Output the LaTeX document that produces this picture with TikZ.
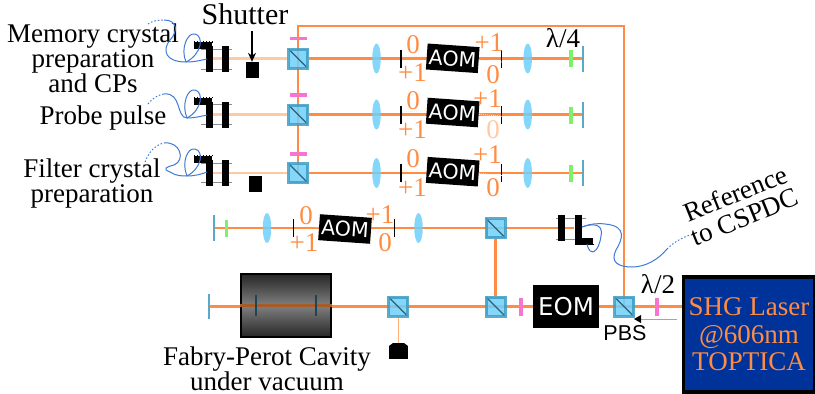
\documentclass[tikz,border=0pt]{standalone}
\usepackage{fontspec}
\setmainfont{Liberation Serif}
\newfontfamily\aomfont{DejaVu Sans}
\newfontfamily\pbsfont{Liberation Sans}
\usetikzlibrary{backgrounds,shapes.geometric,arrows.meta}

\definecolor{beamorange}{HTML}{FF8C42}
\definecolor{beampale}{HTML}{FFC9A3}
\definecolor{opticblue}{HTML}{6ECFFA}
\definecolor{cubeedge}{HTML}{3E9CC4}
\definecolor{mirrorblue}{HTML}{5AA9C9}
\definecolor{wavepink}{HTML}{F874D2}
\definecolor{wavegreen}{HTML}{7DF06C}
\definecolor{fiberblue}{HTML}{3F7AD6}
\definecolor{laserblue}{HTML}{003399}

\tikzset{
  lbl/.style={inner sep=0pt,align=center,font=\fontsize{27}{25}\selectfont},
  order/.style={inner sep=0pt,text=beamorange,font=\fontsize{27}{27}\selectfont},
  beam/.style={beamorange,line width=2.2pt},
  thinbeam/.style={beampale,line width=2.2pt},
  fiber/.style={fiberblue,line width=1pt},
  fibertail/.style={fiberblue,line width=1pt,dash pattern=on 1.5pt off 2pt},
  rod/.style={black!45,line width=1pt},
  order0/.style={white!85!beamorange,line width=.8pt,dash pattern=on 1pt off 1pt},
  pbs/.style={draw=cubeedge,fill=opticblue,line width=3pt,minimum size=19pt,inner sep=0pt,opacity=.85,
    path picture={\draw[cubeedge!50!black,line width=1.2pt] (path picture bounding box.north west) -- (path picture bounding box.south east);}},
  lens/.style={ellipse,fill=opticblue,minimum width=8.5pt,minimum height=30pt,inner sep=0pt,opacity=.85},
  mirror/.style={fill=mirrorblue,minimum width=2pt,minimum height=26pt,inner sep=0pt},
  qwp/.style={fill=wavegreen,minimum width=3.5pt,minimum height=17pt,inner sep=0pt},
  hwp/.style={fill=wavepink,minimum width=3.5pt,minimum height=17pt,inner sep=0pt},
  hwpflat/.style={fill=wavepink,minimum width=17pt,minimum height=3.5pt,inner sep=0pt},
  slit/.style={fill=black,minimum width=1.3pt,minimum height=18pt,inner sep=0pt},
  aom/.style={fill=black,text=white,minimum width=52pt,minimum height=26pt,inner sep=0pt,rotate=-4,font=\aomfont\fontsize{20.5}{20.5}\selectfont},
  bar/.style={fill=black,minimum width=7pt,minimum height=26pt,inner sep=0pt},
  foot/.style={fill=black,minimum width=18pt,minimum height=7pt,inner sep=0pt},
  teeth/.style={black,line width=1.5pt,dash pattern=on 1.5pt off 1.5pt},
  block/.style={fill=black,minimum width=13pt,minimum height=16pt,inner sep=0pt},
}

\begin{document}
\begin{tikzpicture}[x=1pt,y=-1pt]
\useasboundingbox (0,0) rectangle (815,394);

%--------------------------------------------------- row 1
\node[foot] (foot_1) at (203,45.5) {};
\node[bar] (bar_1w) at (209.5,58.5) {};
\node[bar] (bar_1e) at (225.5,58.5) {};
\node[block] (shutter_1) at (252.5,70) {};
\node[pbs] (pbs_1) at (298,58.5) {};
\node[hwpflat] (hwp_1) at (298,38.5) {};
\node[lens] (lens_1w) at (376.5,58.5) {};
\node[slit] (slit_1w) at (401,58.5) {};
\node[aom] (aom_1) at (452.7,58.3) {AOM};
\node[slit] (slit_1e) at (501.7,58.5) {};
\node[lens] (lens_1e) at (527.7,58.5) {};
\node[qwp] (qwp_1) at (571,58.5) {};
\node[mirror] (mirror_1) at (583,58.5) {};
\node[order] (o0_1w) at (413,45) {0};
\node[order] (o1_1w) at (412.5,73) {+1};
\node[order] (o1_1e) at (489,43) {+1};
\node[order] (o0_1e) at (493,75) {0};

%--------------------------------------------------- row 2
\node[foot] (foot_2) at (203,101) {};
\node[bar] (bar_2w) at (209.5,114.5) {};
\node[bar] (bar_2e) at (225.5,114.5) {};
\node[pbs] (pbs_2) at (298,114.5) {};
\node[hwpflat] (hwp_2) at (298,95) {};
\node[lens] (lens_2w) at (376.5,114.5) {};
\node[slit] (slit_2w) at (401,114.5) {};
\node[aom] (aom_2) at (452.7,112.5) {AOM};
\node[slit] (slit_2e) at (501.7,114.5) {};
\node[lens] (lens_2e) at (527.7,114.5) {};
\node[qwp] (qwp_2) at (571,115) {};
\node[mirror] (mirror_2) at (583,114.5) {};
\node[order] (o0_2w) at (413,101) {0};
\node[order] (o1_2w) at (412.5,130) {+1};
\node[order] (o1_2e) at (487.5,99) {+1};
\node[order,text=beampale] (o0_2e) at (493,130) {0};

%--------------------------------------------------- row 3
\node[foot] (foot_3) at (203,159) {};
\node[bar] (bar_3w) at (209.5,173) {};
\node[bar] (bar_3e) at (225.5,173) {};
\node[block] (shutter_3) at (255.5,184) {};
\node[pbs] (pbs_3) at (298,173) {};
\node[hwpflat] (hwp_3) at (298,154) {};
\node[lens] (lens_3w) at (376.5,173) {};
\node[slit] (slit_3w) at (401,173) {};
\node[aom] (aom_3) at (452.7,171.7) {AOM};
\node[slit] (slit_3e) at (501.7,173) {};
\node[lens] (lens_3e) at (527.7,173) {};
\node[qwp] (qwp_3) at (571,173) {};
\node[mirror] (mirror_3) at (583,173) {};
\node[order] (o0_3w) at (413,159) {0};
\node[order] (o1_3w) at (412.5,188) {+1};
\node[order] (o1_3e) at (487.5,155) {+1};
\node[order] (o0_3e) at (493,188) {0};

%--------------------------------------------------- row 4
\node[mirror] (mirror_4) at (213.5,228) {};
\node[qwp] (qwp_4) at (226.5,228) {};
\node[lens] (lens_4w) at (267,228) {};
\node[slit] (slit_4w) at (293.7,228) {};
\node[aom] (aom_4) at (345,229) {AOM};
\node[slit] (slit_4e) at (394.7,228) {};
\node[lens] (lens_4e) at (418.5,228) {};
\node[pbs] (pbs_4) at (495.5,228) {};
\node[bar] (bar_4w) at (561.5,228) {};
\node[bar] (bar_4e) at (578,228) {};
\node[foot] (foot_4) at (584,241) {};
\node[order] (o0_4w) at (306,216) {0};
\node[order] (o1_4w) at (304,243) {+1};
\node[order] (o1_4e) at (380,215) {+1};
\node[order] (o0_4e) at (385,243) {0};

%--------------------------------------------------- row 5
\node[mirror,minimum height=25pt] (mirror_5) at (209,306.5) {};
\node[draw=black,line width=2.5pt,minimum width=90pt,minimum height=63pt,inner sep=0pt,
  top color=black!85,bottom color=black!85,middle color=black!50] (cavity) at (286,305.5) {};
\node[pbs] (pbs_5) at (398,306.5) {};
\node[fill=black,minimum width=19pt,minimum height=13pt,inner sep=0pt] (dump) at (398.5,352.5) {};
\node[pbs] (pbs_6) at (495.5,306.5) {};
\node[hwp,minimum height=18pt] (hwp_6) at (521,306.5) {};
\node[fill=black,text=white,minimum width=66pt,minimum height=43pt,inner sep=0pt,
  font=\aomfont\fontsize{24.5}{24.5}\selectfont] (eom) at (566,306.5) {EOM};
\node[pbs] (pbs_7) at (624,306.5) {};
\node[hwp,minimum height=18pt] (hwp_7) at (657,306.5) {};
\node[draw=black,fill=laserblue,line width=3.5pt,minimum width=131pt,minimum height=115pt,inner sep=0pt,
  text=beamorange,align=center,font=\fontsize{27}{27.5}\selectfont] (laser) at (749,334.5) {SHG Laser\\@606nm\\TOPTICA};

%---------------------------------------------------
\coordinate (corner_w) at (298,26);
\coordinate (corner_e) at (624,26);
\coordinate (arrow_e) at (677,319);
\coordinate (arrow_w) at (641,319);
\coordinate (shutter_top) at (252,31);

\begin{pgfonlayer}{background}
\draw[beam] (pbs_3.center) -- (corner_w) -- (corner_e) -- (pbs_7.center);
\draw[thinbeam] (bar_1w) -- (pbs_1);
\draw[thinbeam] (bar_2w) -- (pbs_2);
\draw[thinbeam] (bar_3w) -- (pbs_3);
\draw[beam] (pbs_1) -- (mirror_1);
\draw[beam] (pbs_2) -- (mirror_2);
\draw[beam] (pbs_3) -- (mirror_3);
\draw[beam] (mirror_4) -- (bar_4e);
\draw[beam] (pbs_4) -- (pbs_6);
\draw[beam,line width=3pt] (mirror_5) -- (mirror_5 -| laser.west);
\draw[beampale!60!beamorange,line width=1pt] (pbs_5) -- (pbs_5 |- dump.north);
\draw[rod] (201,49) -- (232,49);
\draw[rod] (201,69) -- (232,69);
\draw[rod] (201,104) -- (232,104);
\draw[rod] (201,124) -- (232,124);
\draw[rod] (201,163) -- (232,163);
\draw[rod] (201,182) -- (232,182);
\draw[rod] (556,218) -- (586,218);
\draw[rod] (556,239) -- (586,239);
\end{pgfonlayer}

%--------------------------------------------------- inside the cavity
\draw[black!35!beamorange,line width=3pt] (cavity.west) -- (cavity.east);
\node[fill=cubeedge!45!black,minimum width=1.5pt,minimum height=21pt,inner sep=0pt] (cav_w) at (256,305) {};
\node[fill=cubeedge!45!black,minimum width=1.5pt,minimum height=21pt,inner sep=0pt] (cav_e) at (316,305) {};
\fill[black] (393,343) -- (404,343) -- (408,346) -- (389,346) -- cycle;

%--------------------------------------------------- teeth on the couplers
\draw[teeth] (foot_1.north west) -- (foot_1.north east);
\draw[teeth] (foot_2.north west) -- (foot_2.north east);
\draw[teeth] (foot_3.north west) -- (foot_3.north east);
\draw[teeth] (foot_4.south west) -- (foot_4.south east);

%--------------------------------------------------- zero order paths
\draw[order0] (slit_1w) ++(1,-2.5) -- (aom_1.west);
\draw[order0] (slit_2w) ++(1,-2.5) -- (aom_2.west);
\draw[order0] (slit_3w) ++(1,-2.5) -- (aom_3.west);
\draw[order0] (slit_4w) ++(1,-2.5) -- (aom_4.west);
\draw[order0] (aom_1.east) -- ++(24,2);
\draw[order0] (aom_2.east) -- ++(24,2);
\draw[order0] (aom_3.east) -- ++(24,2);
\draw[order0] (aom_4.east) -- ++(24,2);

%--------------------------------------------------- text
\node[lbl] (mem) at (93,58) {Memory crystal\\preparation\\and CPs};
\node[lbl] (probe) at (103,118) {Probe pulse};
\node[lbl] (filt) at (92,183.5) {Filter crystal\\preparation};
\node[lbl,font=\fontsize{30}{30}\selectfont] (shutter) at (245,14) {Shutter};
\node[lbl] (fp) at (267,368.5) {Fabry-Perot Cavity\\under vacuum};
\node[lbl,rotate=22] (ref) at (740,205) {Reference\\to CSPDC};
\node[lbl] (qlabel) at (563,38) {λ/4};
\node[lbl] (hlabel) at (658,284) {λ/2};
\node[inner sep=0pt,font=\pbsfont\fontsize{21.5}{21.5}\selectfont] (pbslabel) at (625,333) {PBS};

\draw[-{Stealth[length=9pt,width=8pt]},black,line width=1.2pt] (shutter_top) -- (shutter_1.north -| shutter_top);
\draw[beam,line width=1pt] (arrow_e) -- (arrow_w);
\fill[black] (arrow_w) ++(-7,0) -- ++(7,-4) -- ++(0,8) -- cycle;

%--------------------------------------------------- fibers
\draw[fibertail] (148,24) .. controls (152,21) and (158,20) .. (164,20);
\draw[fiber] (164,20) .. controls (178,20) and (178,32) .. (170,40) .. controls (162,50) and (165,62) .. (186,62) .. controls (195,62) and (202,60) .. (207,59);
\draw[fiber] (186,62) .. controls (180,48) and (188,32) .. (195,34) .. controls (204,36) and (202,54) .. (186,62);

\draw[fibertail] (148,104) .. controls (152,99) and (157,95) .. (164,94);
\draw[fiber] (164,94) .. controls (182,92) and (176,118) .. (187,118) .. controls (195,118) and (202,116) .. (207,115);
\draw[fiber] (187,118) .. controls (181,104) and (188,88) .. (195,90) .. controls (204,92) and (202,110) .. (187,118);

\draw[fibertail] (145,162) .. controls (149,152) and (155,145) .. (164,143);
\draw[fiber] (164,143) .. controls (180,141) and (186,160) .. (174,165) .. controls (166,167) and (162,169) .. (170,172) .. controls (176,176) and (182,176) .. (187,176) .. controls (195,176) and (202,174) .. (207,172);
\draw[fiber] (187,176) .. controls (181,162) and (188,147) .. (195,149) .. controls (204,151) and (202,168) .. (187,176);

\draw[fiber] (582,227) .. controls (590,224) and (597,223) .. (605,224) .. controls (628,226) and (622,240) .. (616,250) .. controls (610,262) and (618,267) .. (632,267) .. controls (645,267) and (658,260) .. (667,249);
\draw[fiber] (582,227) .. controls (590,224) and (604,222) .. (601,236) .. controls (599,252) and (590,258) .. (587,244);
\draw[fibertail] (667,249) .. controls (673,243) and (681,238) .. (690,235);

\end{tikzpicture}
\end{document}
